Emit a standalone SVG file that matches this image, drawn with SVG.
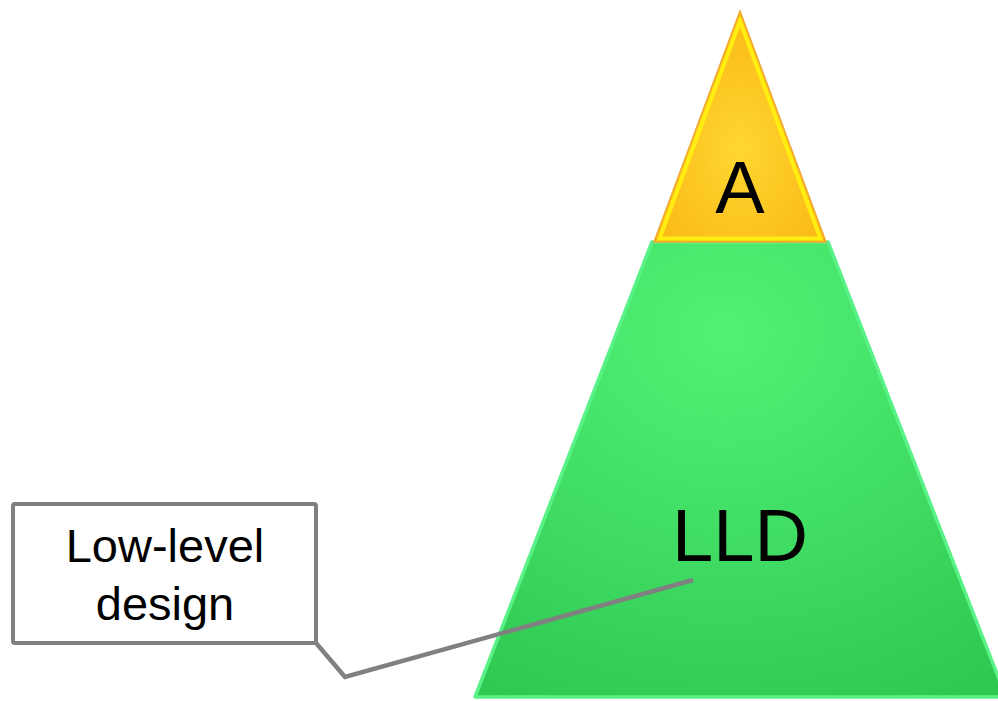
<svg xmlns="http://www.w3.org/2000/svg" width="998" height="701" viewBox="0 0 998 701">
<style>
.lbl{font-family:"Liberation Sans",Arial,sans-serif;fill:#000;text-anchor:middle}
.conn{fill:none;stroke:#808080;stroke-width:4.5;stroke-linejoin:miter}
</style>
<defs>
<radialGradient id="gG" cx="0.47" cy="0.2" r="0.9">
<stop offset="0" stop-color="#52f276"/>
<stop offset="1" stop-color="#2fc852"/>
</radialGradient>
<radialGradient id="gY" cx="0.5" cy="0.6" r="0.7">
<stop offset="0" stop-color="#ffd630"/>
<stop offset="1" stop-color="#f9b412"/>
</radialGradient>
</defs>
<rect width="998" height="701" fill="#fff"/>
<g id="lld">
<polygon points="652,242 828,242 1006,697 475,697" fill="url(#gG)" stroke="#59f287" stroke-width="3.5" stroke-linejoin="round"/>
<text class="lbl" x="740" y="561" font-size="74">LLD</text>
</g>
<g id="a">
<polygon points="740,11 826,242 654,242" fill="url(#gY)" stroke="#f0a830" stroke-width="1.5" stroke-linejoin="miter"/>
<polygon points="740,21 820.5,238.5 659.5,238.5" fill="none" stroke="#ffee10" stroke-width="4" stroke-linejoin="miter"/>
<text class="lbl" x="740" y="213" font-size="74">A</text>
</g>
<g id="connectors">
<polyline class="conn" points="316,643 345,677 693,580"/>
</g>
<g id="callout">
<rect x="13" y="504" width="303" height="139" rx="2" fill="#fff" stroke="#808080" stroke-width="4"/>
<text class="lbl" x="165" y="562" font-size="47">Low-level</text>
<text class="lbl" x="165" y="620" font-size="47">design</text>
</g>
</svg>
